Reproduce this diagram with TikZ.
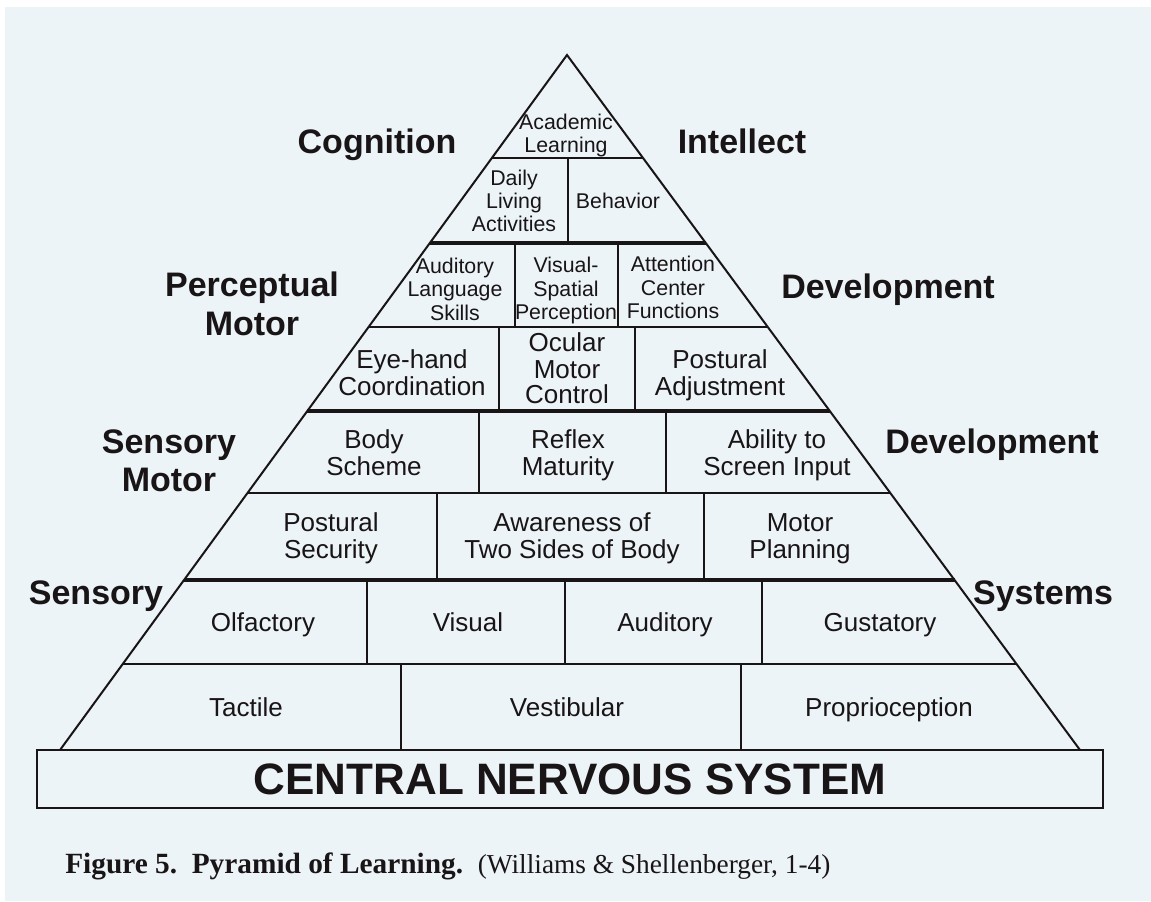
\documentclass[tikz,border=0pt]{standalone}
\usepackage{fontspec}
\setmainfont{Liberation Sans}
\newfontfamily\capfont{Liberation Serif}
\usetikzlibrary{calc}
\definecolor{bgc}{RGB}{236,244,247}
\definecolor{ink}{RGB}{25,20,22}
\tikzset{
  big/.style={font=\fontsize{19.5pt}{20.25pt}\selectfont, align=center, text=ink, inner sep=0pt},
  small/.style={font=\fontsize{16pt}{17.5pt}\selectfont, align=center, text=ink, inner sep=0pt},
  lab/.style={font=\fontsize{25.5pt}{28.75pt}\selectfont\bfseries, align=center, text=ink, inner sep=0pt},
  thin/.style={draw=ink, line width=0.9pt},
  thick/.style={draw=ink, line width=2.6pt},
  side/.style={draw=ink, line width=1.5pt, line cap=round},
}
\begin{document}
\begin{tikzpicture}[x=0.75pt,y=-0.75pt]
\useasboundingbox (0,0) rectangle (1151,901);
\fill[white] (0,0) rectangle (1151,901);
\fill[bgc] (5,7) rectangle (1151,901);
% pyramid corners
\coordinate (A) at (567,55);
\coordinate (BL) at (60,750);
\coordinate (BR) at (1080,750);
% level end points
\foreach \n/\t in {1/0.1482,2/0.2705,3/0.3914,4/0.5122,5/0.6302,6/0.7554,7/0.8763}{
  \coordinate (L\n) at ($(A)!\t!(BL)$);
  \coordinate (R\n) at ($(A)!\t!(BR)$);
}
% horizontal levels
\draw[thin] (L1) -- (R1);
\draw[thick] (L2) -- (R2);
\draw[thin] (L3) -- (R3);
\draw[thick] (L4) -- (R4);
\draw[thin] (L5) -- (R5);
\draw[thick] (L6) -- (R6);
\draw[thin] (L7) -- (R7);
% vertical dividers
\draw[thin] (568,158) -- (568,243);
\draw[thin] (515,243) -- (515,327);
\draw[thin] (618,243) -- (618,327);
\draw[thin] (499,327) -- (499,411);
\draw[thin] (635,327) -- (635,411);
\draw[thin] (479,411) -- (479,493);
\draw[thin] (666,411) -- (666,493);
\draw[thin] (437,493) -- (437,580);
\draw[thin] (704,493) -- (704,580);
\draw[thin] (367,580) -- (367,664);
\draw[thin] (565,580) -- (565,664);
\draw[thin] (762,580) -- (762,664);
\draw[thin] (401,664) -- (401,750);
\draw[thin] (741,664) -- (741,750);
% pyramid sides
\draw[side] (BL) -- (A) -- (BR);
% CNS box
\node[draw=ink, line width=1.5pt, minimum width=1066*0.75pt, minimum height=58*0.75pt, inner sep=0pt,
  font=\fontsize{33pt}{36pt}\selectfont\bfseries, text=ink] (cns) at (570,779) {CENTRAL NERVOUS SYSTEM};
% cells (struts make the vertical centring independent of descenders)
\node[small] (acad) at (566,136.3) {\strut Academic\\Learning\strut};
\node[small] (daily) at (514,203.7) {\strut Daily\\Living\\Activities\strut};
\node[small] (behav) at (618,203.6) {\strut Behavior\strut};
\node[small] (audl) at (455,292) {\strut Auditory\\Language\\Skills\strut};
\node[small] (vis) at (566,291.4) {\strut Visual-\\Spatial\\Perception\strut};
\node[small] (att) at (673,290.4) {\strut Attention\\Center\\Functions\strut};
\node[big] (eye) at (412,376.4) {\strut Eye-hand\\Coordination\strut};
\node[big, font=\fontsize{19.5pt}{19pt}\selectfont] (ocu) at (567,372) {\strut Ocular\\Motor\\Control\strut};
\node[big] (post) at (720,376.4) {\strut Postural\\Adjustment\strut};
\node[big] (body) at (374,456.4) {\strut Body\\Scheme\strut};
\node[big] (refl) at (568,456.4) {\strut Reflex\\Maturity\strut};
\node[big] (abil) at (777,456.4) {\strut Ability to\\Screen Input\strut};
\node[big] (psec) at (331,539.8) {\strut Postural\\Security\strut};
\node[big] (aware) at (572,539.8) {\strut Awareness of\\Two Sides of Body\strut};
\node[big] (mplan) at (800,539.8) {\strut Motor\\Planning\strut};
\node[big] (olf) at (263,626.3) {\strut Olfactory\strut};
\node[big] (visu) at (468,626.3) {\strut Visual\strut};
\node[big] (aud) at (665,626.3) {\strut Auditory\strut};
\node[big] (gus) at (880,626.3) {\strut Gustatory\strut};
\node[big] (tac) at (246,711.3) {\strut Tactile\strut};
\node[big] (vest) at (567,711.3) {\strut Vestibular\strut};
\node[big] (prop) at (889,711.3) {\strut Proprioception\strut};
% side labels
\node[lab] (cog) at (377,145.6) {\strut Cognition\strut};
\node[lab] (intel) at (742,145.6) {\strut Intellect\strut};
\node[lab] (pm) at (252,308.2) {\strut Perceptual\\Motor\strut};
\node[lab] (dev1) at (888,290.6) {\strut Development\strut};
\node[lab] (sm) at (169,464.8) {\strut Sensory\\Motor\strut};
\node[lab] (dev2) at (992,445.6) {\strut Development\strut};
\node[lab] (sens) at (96,597.3) {\strut Sensory\strut};
\node[lab] (sys) at (1043,597.3) {\strut Systems\strut};
% caption
\node[anchor=base west, inner sep=0pt, text=ink] (cap) at (65,873)
  {\capfont\fontsize{22pt}{24pt}\selectfont\bfseries Figure 5.\ \ Pyramid of Learning.\ \ {\mdseries\fontsize{20.5pt}{22pt}\selectfont(Williams \& Shellenberger, 1-4)}};
\end{tikzpicture}
\end{document}
